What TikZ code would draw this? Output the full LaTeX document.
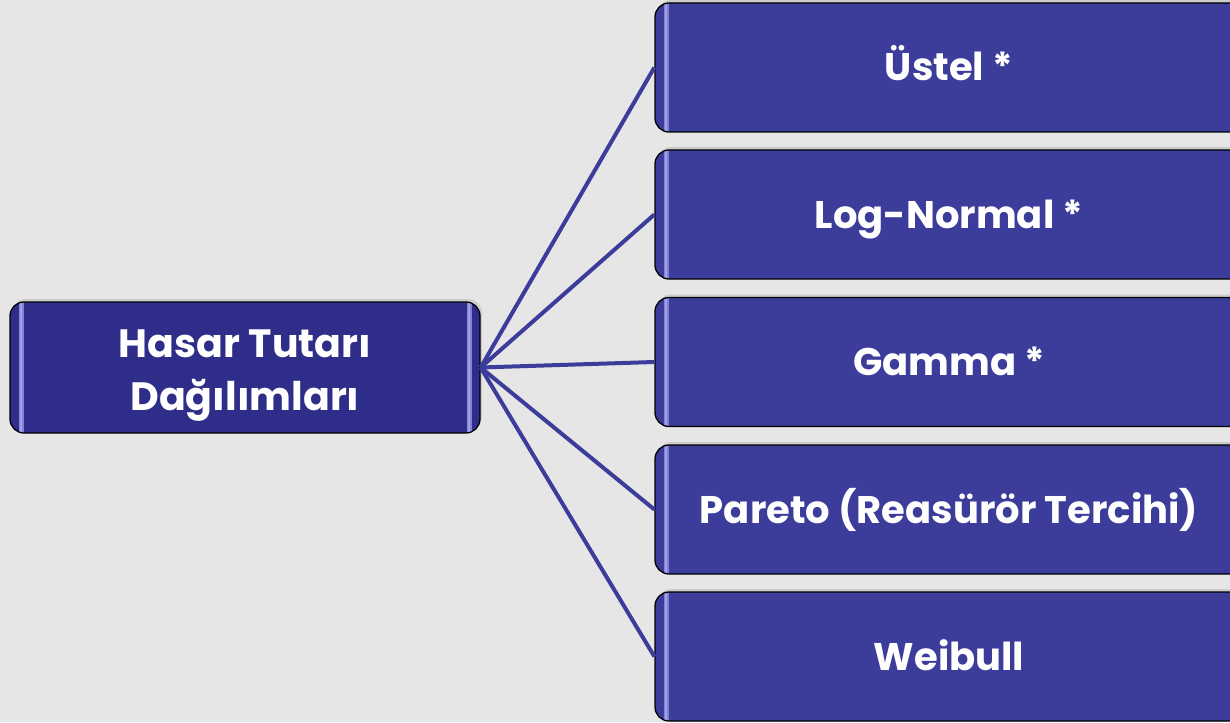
\documentclass[tikz,border=0pt]{standalone}
\usepackage{fontspec}
\setmainfont{Poppins}
\usetikzlibrary{shadows}
\definecolor{bgc}{HTML}{E6E6E6}
\definecolor{leftfill}{HTML}{2E2E8A}
\definecolor{rightfill}{HTML}{3C3C9A}
\definecolor{linec}{HTML}{3C3C9A}
\definecolor{hl}{HTML}{A0A0EA}
\tikzset{
  box/.style={draw=black, line width=1.3pt, rounded corners=14pt, text=white,
    align=center, inner sep=0pt,
    drop shadow={opacity=0.25, shadow xshift=2pt, shadow yshift=3pt},
    path picture={
      \draw[hl!70!rightfill, line width=5pt, line cap=round]
        ([xshift=11pt,yshift=16pt]path picture bounding box.north west) --
        ([xshift=11pt,yshift=-16pt]path picture bounding box.south west);
      \draw[hl, line width=2.5pt, line cap=round]
        ([xshift=11pt,yshift=16pt]path picture bounding box.north west) --
        ([xshift=11pt,yshift=-16pt]path picture bounding box.south west);
      \draw[hl!70!rightfill, line width=5pt, line cap=round]
        ([xshift=-11pt,yshift=16pt]path picture bounding box.north east) --
        ([xshift=-11pt,yshift=-16pt]path picture bounding box.south east);
      \draw[hl, line width=2.5pt, line cap=round]
        ([xshift=-11pt,yshift=16pt]path picture bounding box.north east) --
        ([xshift=-11pt,yshift=-16pt]path picture bounding box.south east);
      \draw[hl!50!rightfill, line width=3pt]
        ([xshift=16pt,yshift=4pt]path picture bounding box.north west) --
        ([xshift=-16pt,yshift=4pt]path picture bounding box.north east);
      \draw[hl!50!rightfill, line width=3pt]
        ([xshift=16pt,yshift=-4pt]path picture bounding box.south west) --
        ([xshift=-16pt,yshift=-4pt]path picture bounding box.south east);
    }},
  leftbox/.style={box, fill=leftfill, minimum width=470pt, minimum height=131pt,
    text height=85pt, text depth=0pt,
    font=\bfseries\fontsize{39.5}{53}\selectfont},
  rightbox/.style={box, fill=rightfill, minimum width=588pt, minimum height=129pt,
    text height=27pt, text depth=0pt,
    font=\bfseries\fontsize{38.5}{48}\selectfont},
  conn/.style={draw=linec, line width=4pt}
}
\begin{document}
\begin{tikzpicture}[x=1pt,y=-1pt]
  \fill[bgc] (0,0) rectangle (1230,722);
  \useasboundingbox (0,0) rectangle (1230,722);
  \clip (0,0) rectangle (1230,722);
  \node[leftbox] (L) at (245,367.5) {Hasar Tutarı\\Dağılımları};
  \node[rightbox] (r1) at (949,67.5) {Üstel *};
  \node[rightbox] (r2) at (949,214.5) {Log-Normal *};
  \node[rightbox] (r3) at (949,362) {Gamma *};
  \node[rightbox] (r4) at (949,509.5) {Pareto (Reasürör Tercihi)};
  \node[rightbox] (r5) at (949,656.5) {Weibull};
  \foreach \r in {r1,r2,r3,r4,r5}
    \draw[conn] (L.east) -- (\r.west);
\end{tikzpicture}
\end{document}
